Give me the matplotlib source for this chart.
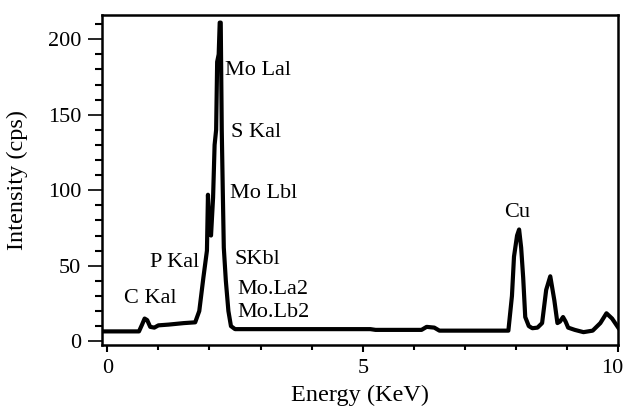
import matplotlib
matplotlib.use("Agg")
import matplotlib.pyplot as plt
import matplotlib.transforms as mtransforms
from matplotlib.ticker import MultipleLocator

energy = [-0.1, 0.62, 0.68, 0.73, 0.78, 0.84, 0.92, 1.0, 1.2, 1.5, 1.72, 1.80, 1.88, 1.95,
          1.97, 1.99, 2.03, 2.07, 2.10, 2.13, 2.15, 2.18, 2.20, 2.22, 2.24, 2.26, 2.28,
          2.32, 2.37, 2.42, 2.5, 3.5, 5.15, 5.25, 6.15, 6.25, 6.4, 6.5, 7.85, 7.92, 7.96,
          8.02, 8.06, 8.10, 8.14, 8.18, 8.25, 8.32, 8.42, 8.51, 8.59, 8.67, 8.75, 8.81,
          8.86, 8.92, 8.97, 9.02, 9.15, 9.32, 9.5, 9.65, 9.77, 9.88, 10.0]
intensity = [6.5, 6.5, 11, 15, 14, 9.5, 9, 10.5, 11, 12, 12.5, 20, 42, 60,
             97, 78, 70, 95, 130, 140, 185, 190, 211, 211, 140, 100, 62,
             40, 20, 10, 8, 8, 8, 7.5, 7.5, 9.5, 9, 7, 7, 30, 56,
             70, 74, 62, 42, 16, 10, 8.6, 9, 12, 34, 43, 27, 12,
             13, 16, 13, 9, 7.5, 6, 7, 12, 18.5, 15, 9]

labels = ["Mo Lal", "S Kal", "Mo Lbl", "SKbl", "Mo.La2", "Mo.Lb2", "P Kal", "C Kal", "Cu"]
label_x = [2.3, 2.42, 2.4, 2.48, 2.55, 2.55, 1.8, 0.33, 8.02]
label_y = [179, 138, 98, 54, 34, 19, 52, 28.5, 85]
label_ha = ["left", "left", "left", "left", "left", "left", "right", "left", "center"]

plt.rcParams['font.family'] = ['Liberation Serif', 'DejaVu Serif']
fig = plt.figure(figsize=(6.27, 4.07), dpi=100)
ax = fig.add_axes([0.163, 0.152, 0.823, 0.811])
ax.plot(energy, intensity, color='black', lw=3.0, solid_joinstyle='round')
for t, x, y, ha in zip(labels, label_x, label_y, label_ha):
    ax.text(x, y, t, ha=ha, va='center', fontsize=16)

ax.set_xlim(-0.1, 10.0)
ax.set_ylim(-2.6, 216)
ax.xaxis.set_major_locator(MultipleLocator(5))
ax.xaxis.set_minor_locator(MultipleLocator(1))
ax.yaxis.set_major_locator(MultipleLocator(50))
ax.yaxis.set_minor_locator(MultipleLocator(10))
ax.tick_params(axis='x', which='major', direction='out', length=5, width=1.5, labelsize=16, pad=5)
ax.tick_params(axis='x', which='minor', direction='out', length=3.5, width=1.5)
ax.tick_params(axis='y', which='major', direction='out', length=10, width=1.2, labelsize=16, pad=5)
ax.tick_params(axis='y', which='minor', direction='out', length=5, width=1.5)
for s in ax.spines.values():
    s.set_linewidth(1.8)
ax.set_xlabel("Energy (KeV)", fontsize=17.5, va='center')
ax.set_ylabel("Intensity (cps)", fontsize=17.5, va='center')
ax.xaxis.set_label_coords(0.5, -0.152)
ax.yaxis.set_label_coords(-0.164, 0.5)

fig.canvas.draw()
xt = ax.get_xticklabels()
shift = mtransforms.ScaledTranslation(-6 / 100, 0, fig.dpi_scale_trans)
for lab in xt:
    if lab.get_text() == "10":
        lab.set_transform(lab.get_transform() + shift)
fig.savefig("out.png", dpi=100)
